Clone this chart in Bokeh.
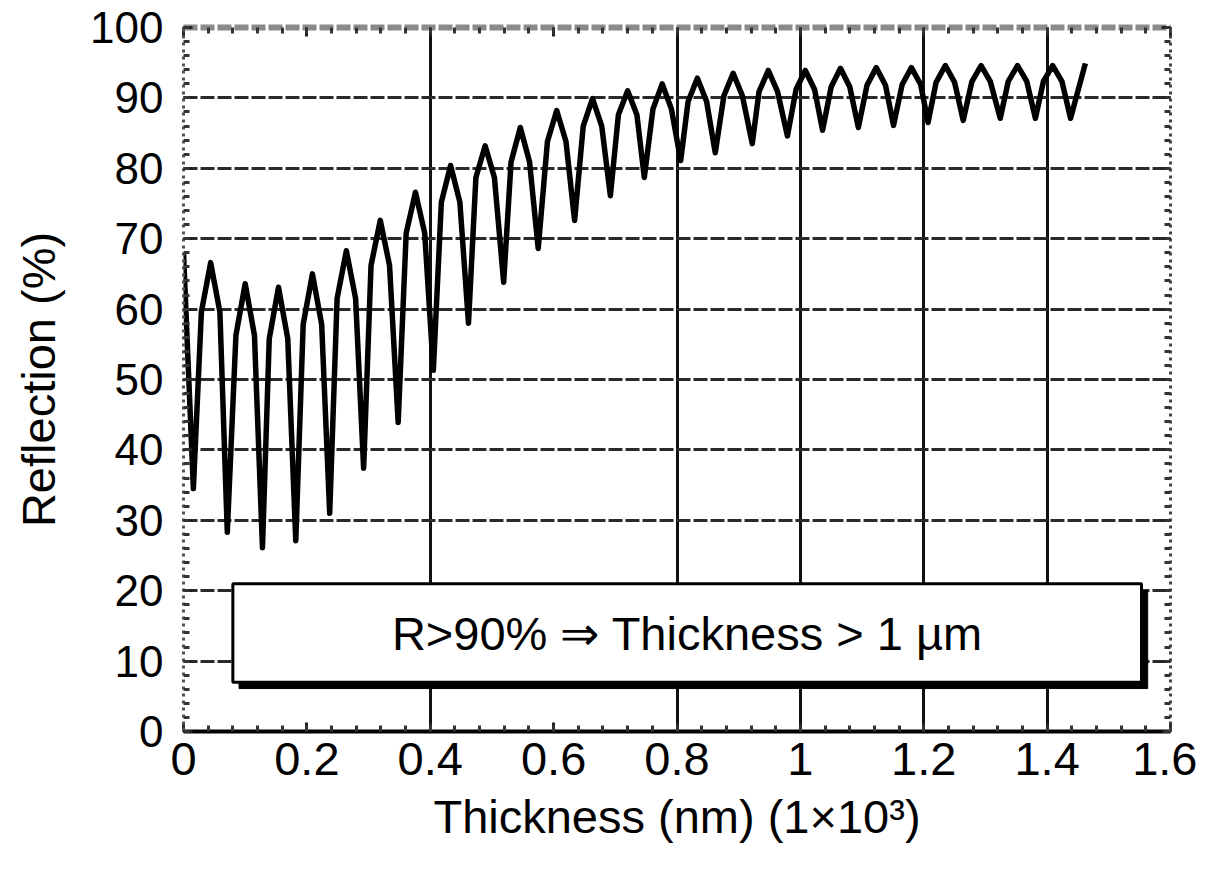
from bokeh.plotting import figure
from bokeh.models import Range1d, FixedTicker, LinearAxis, CustomLabelingPolicy
from bokeh.core.properties import value
from bokeh.embed import file_html
from bokeh.resources import INLINE

# Data (thickness in 1e3 nm, reflection in %)
thickness = [0.000, 0.016,
             0.029, 0.044, 0.059, 0.071, 0.085, 0.100, 0.115, 0.128,
             0.139, 0.154, 0.169, 0.182, 0.194, 0.209, 0.224, 0.237,
             0.249, 0.264, 0.279, 0.292, 0.304, 0.319, 0.334, 0.348,
             0.361, 0.376, 0.391, 0.405, 0.418, 0.433, 0.448, 0.462,
             0.474, 0.489, 0.504, 0.519, 0.531, 0.546, 0.561, 0.575,
             0.590, 0.605, 0.620, 0.634, 0.648, 0.663, 0.678, 0.692,
             0.705, 0.720, 0.735, 0.747, 0.761, 0.776, 0.791, 0.806,
             0.818, 0.833, 0.848, 0.862, 0.876, 0.891, 0.906, 0.922,
             0.933, 0.948, 0.963, 0.979, 0.993, 1.008, 1.023, 1.036,
             1.050, 1.065, 1.080, 1.094, 1.108, 1.123, 1.138, 1.151,
             1.165, 1.180, 1.195, 1.207, 1.220, 1.235, 1.250, 1.264,
             1.278, 1.293, 1.308, 1.324, 1.337, 1.352, 1.367, 1.381,
             1.394, 1.409, 1.424, 1.438, 1.462]
reflection = [68.0, 34.5,
              59.6, 66.6, 59.6, 28.3, 56.3, 63.6, 56.3, 26.1,
              55.8, 63.1, 55.8, 27.1, 57.8, 65.0, 57.8, 31.0,
              61.5, 68.3, 61.5, 37.4, 66.2, 72.6, 66.2, 43.9,
              70.8, 76.6, 70.8, 51.3, 75.2, 80.4, 75.2, 58.0,
              78.7, 83.2, 78.7, 63.8, 80.9, 85.8, 80.9, 68.6,
              83.8, 88.2, 83.8, 72.6, 86.0, 89.9, 86.0, 76.1,
              87.6, 91.0, 87.6, 78.7, 88.4, 92.0, 88.4, 81.1,
              89.5, 92.8, 89.5, 82.2, 90.3, 93.5, 90.3, 83.5,
              90.9, 93.9, 90.9, 84.6, 91.2, 93.9, 91.2, 85.4,
              91.6, 94.2, 91.6, 85.8, 91.8, 94.3, 91.8, 86.1,
              91.9, 94.3, 91.9, 86.5, 92.2, 94.6, 92.2, 86.8,
              92.3, 94.6, 92.3, 87.1, 92.35, 94.6, 92.35, 87.1,
              92.35, 94.6, 92.35, 87.1, 94.9]

x_ticks = [0, 0.2, 0.4, 0.6, 0.8, 1.0, 1.2, 1.4, 1.6]
x_tick_labels = ["0", "0.2", "0.4", "0.6", "0.8", "1", "1.2", "1.4", "1.6"]
y_ticks = [0, 10, 20, 30, 40, 50, 60, 70, 80, 90, 100]
x_grid = [0.4, 0.8, 1.0, 1.2, 1.4]
y_grid = [10, 20, 30, 40, 50, 60, 70, 80, 90]
x_title = "Thickness (nm) (1\u00d710\u00b3)"
y_title = "Reflection (%)"
note = "R>90% \u21d2 Thickness > 1 \u00b5m"

FONT = "Liberation Sans"
x_minor = [i * 0.04 for i in range(41)]
y_minor = list(range(0, 101, 2))

p = figure(width=1197, height=861, output_backend="svg", toolbar_location=None,
           x_range=Range1d(0, 1.6), y_range=Range1d(0, 100),
           min_border_left=183, min_border_right=27, min_border_top=27,
           min_border_bottom=130)
p.outline_line_color = None
p.background_fill_color = "white"

# grids
p.xgrid.ticker = FixedTicker(ticks=x_grid)
p.xgrid.grid_line_color = "#111111"
p.xgrid.grid_line_width = 3
p.ygrid.ticker = FixedTicker(ticks=y_grid)
p.ygrid.grid_line_color = "#2a2a2a"
p.ygrid.grid_line_width = 3
p.ygrid.grid_line_dash = "14 3"

def style_axis(ax, label_size):
    ax.major_tick_in = 9
    ax.major_tick_out = 0
    ax.minor_tick_in = 6
    ax.minor_tick_out = 0
    ax.major_tick_line_width = 3
    ax.minor_tick_line_width = 3
    ax.major_tick_line_color = "#222222"
    ax.minor_tick_line_color = "#333333"
    ax.major_label_text_font = FONT
    ax.major_label_text_font_size = label_size
    ax.major_label_text_color = "black"
    ax.axis_label_text_font = FONT
    ax.axis_label_text_font_size = "47px"
    ax.axis_label_text_font_style = "normal"
    ax.axis_label_text_color = "black"

xa = p.xaxis[0]
style_axis(xa, "47px")
xa.ticker = FixedTicker(ticks=x_ticks, minor_ticks=x_minor)
xa.major_label_overrides = {t: l for t, l in zip(x_ticks, x_tick_labels)}
xa.axis_line_width = 4
xa.axis_line_color = "black"
xa.major_label_standoff = 11
xa.axis_label = x_title
xa.axis_label_standoff = 12

ya = p.yaxis[0]
style_axis(ya, "44px")
ya.ticker = FixedTicker(ticks=y_ticks, minor_ticks=y_minor)
ya.axis_line_color = "#555555"
ya.axis_line_width = 3
ya.axis_line_dash = "3 4"
ya.major_label_standoff = 20
ya.axis_label = y_title
ya.axis_label_standoff = 22

no_labels = CustomLabelingPolicy(code="return []")

top = LinearAxis(ticker=FixedTicker(ticks=x_ticks, minor_ticks=x_minor))
style_axis(top, "10px")
top.major_label_policy = no_labels
top.axis_line_color = "#8a8a8a"
top.axis_line_width = 6
top.axis_line_dash = "14 3"
p.add_layout(top, "above")

right = LinearAxis(ticker=FixedTicker(ticks=y_ticks, minor_ticks=y_minor))
style_axis(right, "10px")
right.major_label_policy = no_labels
right.axis_line_color = "#444444"
right.axis_line_width = 3
right.axis_line_dash = "3 4"
p.add_layout(right, "right")

# annotation box with drop shadow
p.quad(left=0.090, right=1.563, bottom=6.1, top=20.0, fill_color="black", line_color="black")
p.quad(left=0.080, right=1.553, bottom=7.0, top=21.0, fill_color="white",
       line_color="black", line_width=3)
p.text(x=[0.817], y=[13.9], text=[note], text_font=value(FONT), text_font_size="47px",
       text_align="center", text_baseline="middle", text_color="black")

# curve
p.line(thickness, reflection, line_color="black", line_width=5.5, line_join="round")

open("out.html", "w").write(file_html(p, INLINE))
